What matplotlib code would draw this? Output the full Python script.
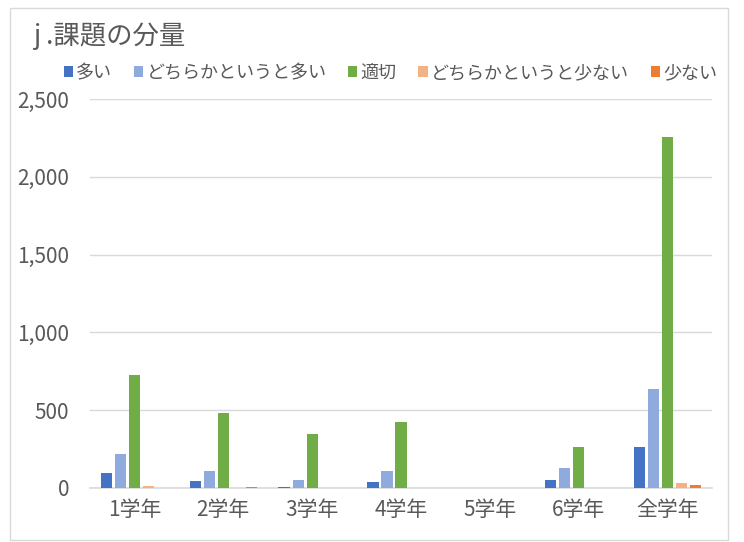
import matplotlib
matplotlib.use("Agg")
import matplotlib.pyplot as plt
import numpy as np
from matplotlib.patches import Rectangle

plt.rcParams['font.family'] = ['Noto Sans CJK JP', 'DejaVu Sans']

categories = ['1学年', '2学年', '3学年', '4学年', '5学年', '6学年', '全学年']
series_names = ['多い', 'どちらかというと多い', '適切', 'どちらかというと少ない', '少ない']
s_many = [96, 45, 8, 40, 0, 53, 262]
s_rather_many = [218, 111, 50, 109, 0, 127, 636]
s_ok = [726, 482, 347, 424, 0, 265, 2258]
s_rather_few = [12, 3, 0, 3, 0, 0, 32]
s_few = [0, 5, 0, 0, 0, 0, 17]
colors = ['#4472C4', '#8FAADC', '#70AD47', '#F4B183', '#ED7D31']
title = 'j .課題の分量'

W, H = 744, 542
fig = plt.figure(figsize=(W/100, H/100), dpi=100)
fig.patch.set_facecolor('white')
fig.patches.append(Rectangle((10/W, 1-540/H), 718/W, 532/H, transform=fig.transFigure,
                             fill=False, edgecolor='#D9D9D9', lw=1))

left, right, top, bottom = 90, 712, 99, 488
ax = fig.add_axes([left/W, 1-bottom/H, (right-left)/W, (bottom-top)/H])
ax.set_facecolor('white')

data = [s_many, s_rather_many, s_ok, s_rather_few, s_few]
x = np.arange(len(categories))
slot = 0.158
bw = 0.126
for i, (vals, c, name) in enumerate(zip(data, colors, series_names)):
    ax.bar(x + (i-2)*slot, vals, width=bw, color=c, label=name, zorder=3)

ax.set_xlim(-0.5, len(categories)-0.5)
ax.set_ylim(0, 2500)
ax.set_yticks(range(0, 2501, 500))
ax.set_yticklabels([f'{v:,}' for v in range(0, 2501, 500)])
ax.yaxis.grid(True, color='#D9D9D9', lw=1, zorder=0)
ax.set_xticks(x)
ax.set_xticklabels(categories)
for s in ['top', 'right', 'left']:
    ax.spines[s].set_visible(False)
ax.spines['bottom'].set_color('#D9D9D9')
ax.spines['bottom'].set_linewidth(1.2)
ax.tick_params(axis='y', length=0, colors='#595959', labelsize=15, pad=15)
ax.tick_params(axis='x', length=0, colors='#595959', labelsize=15, pad=8)

fig.text(33/W, 1-36/H, title, fontsize=19, color='#595959', va='center', ha='left')
leg = fig.legend(loc='center', bbox_to_anchor=((63+718)/2/W, 1-73/H), ncol=5, frameon=False,
                 fontsize=13, handlelength=0.5, handleheight=0.5, handletextpad=0.2,
                 columnspacing=1.2, labelcolor='#595959')
fig.savefig('out.png', dpi=100, facecolor='white')
